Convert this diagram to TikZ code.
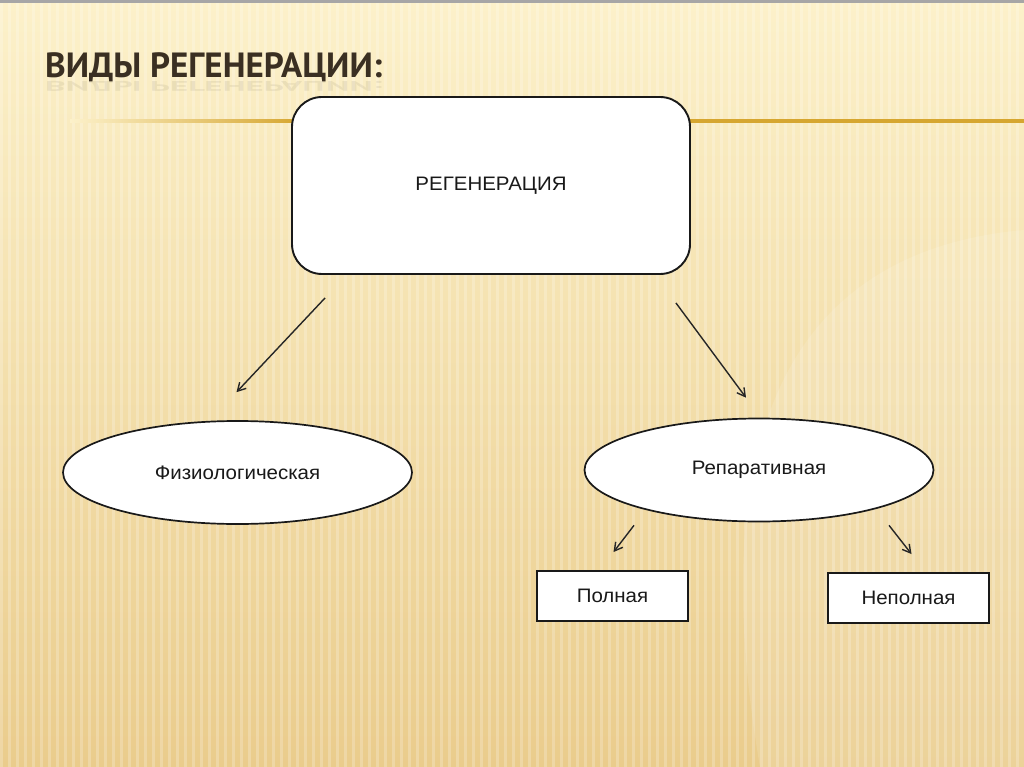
\documentclass[tikz,border=0pt]{standalone}
\usepackage{fontspec}
\setmainfont{Liberation Sans}
\newfontfamily\titlefont{PT Sans}
\usetikzlibrary{shapes.geometric,arrows.meta,calc}
\definecolor{bgtop}{RGB}{252,241,202}
\definecolor{bgbot}{RGB}{234,204,140}
\definecolor{goldline}{RGB}{214,166,48}
\definecolor{titlecol}{RGB}{58,47,34}
\tikzset{
  txt/.style={font=\fontsize{19.5}{21}\selectfont, text=black!90},
  mainbox/.style={draw=black!90, line width=1.9pt, fill=white, rounded corners=30pt,
    minimum width=398pt, minimum height=177pt, inner sep=0pt, txt},
  oval/.style={ellipse, draw=black!90, line width=1.7pt, fill=white,
    minimum width=349pt, minimum height=103pt, inner sep=0pt, txt},
  smallbox/.style={draw=black!90, line width=1.9pt, fill=white,
    minimum height=50pt, inner sep=0pt, txt},
  conn/.style={draw=black!85, line width=1.4pt, -{Straight Barb[length=8pt,width=9pt]}},
}
\begin{document}
\begin{tikzpicture}[x=1pt,y=-1pt]
\useasboundingbox (0,0) rectangle (1024,767);
% background
\shade[top color=bgtop, bottom color=bgbot] (0,0) rectangle (1024,767);
\fill[white, opacity=0.12] (1024,230) .. controls (800,250) and (700,420) .. (760,767) -- (1024,767) -- cycle;
\foreach \x in {0,8,...,1024} {
  \fill[white, opacity=0.22] (\x,0) rectangle ({\x+3},767);
}
\fill[gray!70] (0,0) rectangle (1024,3);
% gold line
\shade[left color=bgtop, right color=goldline] (70,119.5) rectangle (300,123);
\fill[goldline] (300,119.5) rectangle (1024,123);
% title
\node[anchor=base west, inner sep=0pt, text=titlecol, font=\titlefont\bfseries\fontsize{35}{37}\selectfont] (title) at (45,78) {ВИДЫ РЕГЕНЕРАЦИИ:};
\begin{scope}[shift={(45,82)}]
\node[anchor=base west, inner sep=0pt, yscale=-0.4, transform shape, text=titlecol, opacity=0.08, font=\titlefont\bfseries\fontsize{35}{37}\selectfont] (refl) at (0,0) {ВИДЫ РЕГЕНЕРАЦИИ:};
\end{scope}
% nodes
\node[mainbox] (reg) at (491,185.5) {\scalebox{1.05}[1]{РЕГЕНЕРАЦИЯ}};
\node[oval] (fiz) at (237.5,472.5) {\scalebox{1.05}[1]{Физиологическая}};
\node[oval] (rep) at (759,470) {\scalebox{1.05}[1]{Репаративная}};
\node[smallbox, minimum width=151pt] (poln) at (612.5,596) {\scalebox{1.05}[1]{Полная}};
\node[smallbox, minimum width=161pt] (nepoln) at (908.5,598) {\scalebox{1.05}[1]{Неполная}};
% connectors
\coordinate (a1s) at ($(reg.south west)+(34,23)$);
\coordinate (a1e) at ($(fiz.north)+(-1,-28)$);
\coordinate (a2s) at ($(reg.south east)+(-15,28)$);
\coordinate (a2e) at ($(rep.north)+(-13,-20)$);
\coordinate (a3s) at ($(rep.south)+(-125,3)$);
\coordinate (a3e) at ($(poln.north)+(1,-18)$);
\coordinate (a4s) at ($(rep.south)+(130,3)$);
\coordinate (a4e) at ($(nepoln.north)+(3,-18)$);
\draw[conn] (a1s) -- (a1e);
\draw[conn] (a2s) -- (a2e);
\draw[conn] (a3s) -- (a3e);
\draw[conn] (a4s) -- (a4e);
\end{tikzpicture}
\end{document}
